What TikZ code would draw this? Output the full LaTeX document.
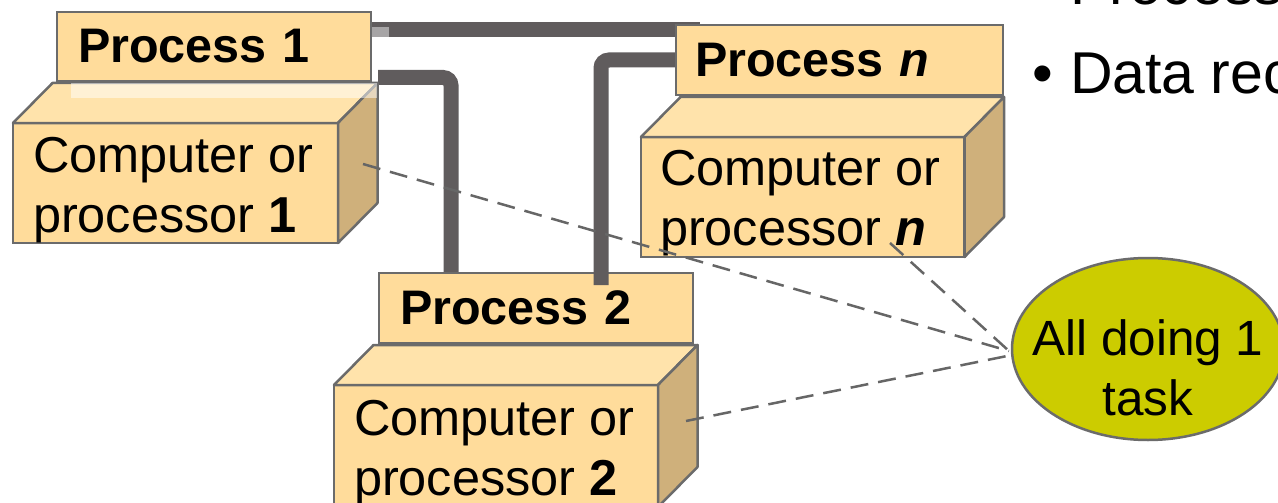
\documentclass[tikz,border=0pt]{standalone}
\usepackage{fontspec}
\setmainfont{Liberation Sans}
\usetikzlibrary{calc,shapes.geometric}

\definecolor{boxfront}{HTML}{FFDC9B}
\definecolor{boxtop}{HTML}{FFE3AB}
\definecolor{boxside}{HTML}{CFB07B}
\definecolor{boxline}{HTML}{6B6B6B}
\definecolor{busline}{HTML}{605C5D}
\definecolor{taskfill}{HTML}{CCCC00}
\definecolor{dashline}{HTML}{666666}

% top and right faces of a box whose front face is node #1
\newcommand{\cubefaces}[1]{%
  \filldraw[face, fill=boxtop] (#1.north west) -- ++(39.5,-40)
    -- ($(#1.north east)+(39.5,-40)$) -- (#1.north east) -- cycle;
  \filldraw[face, fill=boxside] (#1.north east) -- ++(39.5,-40)
    -- ($(#1.south east)+(39.5,-40)$) -- (#1.south east) -- cycle;
}

\begin{document}
\begin{tikzpicture}[x=1pt,y=-1pt,
  every node/.style={inner sep=0pt, outer sep=0pt},
  face/.style={draw=boxline, line width=2.5pt, line join=round},
  front/.style={rectangle, draw=boxline, line width=2.5pt, fill=boxfront, anchor=north west},
  procbox/.style={front, align=left, font=\fontsize{48.5}{60}\selectfont\bfseries},
  boxtext/.style={anchor=north west, align=left, font=\fontsize{50.5}{60}\selectfont},
  bus/.style={draw=busline, line width=15pt, rounded corners=8pt},
  link/.style={draw=dashline, line width=2.5pt, dash pattern=on 18pt off 10pt},
  bigtext/.style={font=\fontsize{59}{70}\selectfont}
]
\useasboundingbox (0,0) rectangle (1278,503);
\clip (0,0) rectangle (1278,503);

% front faces and process labels (placed first so the buses can refer to them)
\node[front, minimum width=325pt, minimum height=120pt] (cf1) at (13,123) {};
\node[procbox, text width=272pt, inner xsep=21pt, minimum height=69pt] (p1) at (57,12) {Process 1};
\node[front, minimum width=324pt, minimum height=122pt] (cf2) at (334,385) {};
\node[procbox, text width=272pt, inner xsep=21pt, minimum height=70pt] (p2) at (379,273) {Process 2};
\node[front, minimum width=323.5pt, minimum height=120pt] (cfn) at (641,137) {};
\node[procbox, text width=289pt, inner xsep=19pt, minimum height=70pt] (pn) at (676,25) {Process \textit{n}};

% buses running behind the boxes
\path[bus] ($(p1.north east)+(0,18)$) -- ($(pn.north west)+(24,5)$);
\path[bus] ($(cf1.north east)+(40,-45.5)$) -| ($(p2.north west)+(72,0)$);

% computer 1 with process 1
\node[front, minimum width=325pt, minimum height=120pt] at (cf1.north west) {};
\cubefaces{cf1}
\node[procbox, text width=272pt, inner xsep=21pt, minimum height=69pt] at (p1.north west) {Process 1};
\fill[white, opacity=0.5] (71,83) rectangle (377,98);
\fill[white, opacity=0.45] (372,27) rectangle (389,37);

% computer 2 with process 2
\node[front, minimum width=324pt, minimum height=122pt] at (cf2.north west) {};
\cubefaces{cf2}
\node[procbox, text width=272pt, inner xsep=21pt, minimum height=70pt] at (p2.north west) {Process 2};

% bus from process n down onto process 2
\path[bus] ($(pn.north west)+(0,35)$) -| ($(p2.north west)+(222,12)$);

% computer n with process n
\node[front, minimum width=323.5pt, minimum height=120pt] at (cfn.north west) {};
\cubefaces{cfn}
\node[procbox, text width=289pt, inner xsep=19pt, minimum height=70pt] at (pn.north west) {Process \textit{n}};

% computer labels
\node[boxtext] (t1) at (33,132) {\rule{0pt}{40pt}Computer or\\processor \textbf{1}};
\node[boxtext] (t2) at (354,395) {\rule{0pt}{40pt}Computer or\\processor \textbf{2}};
\node[boxtext] (tn) at (660,145) {\rule{0pt}{40pt}Computer or\\processor \textbf{\textit{n}}};

% shared task
\node[ellipse, draw=boxline, line width=2.5pt, fill=taskfill,
      minimum width=272pt, minimum height=182pt] (task) at (1148,349) {};
\node[anchor=north, align=center, font=\fontsize{49.5}{60}\selectfont] (tasktxt)
      at (1148,315) {\rule{0pt}{40pt}All doing 1\\task};

% dashed links to the task
\coordinate (s1) at (363,164);
\coordinate (sn) at (890,243);
\coordinate (s2) at (686,421);
\draw[link] (s1) -- ($(task.west)+(-3,2)$);
\draw[link] (sn) -- ($(task.west)+(-3,2)$);
\draw[link] (s2) -- ($(task.west)+(0,6)$);

% bullet text at the right
\node[anchor=base west, bigtext] (toptext) at (1070,5) {Processes};
\node[anchor=base, bigtext] (bullet) at (1043,93) {•};
\node[anchor=base west, bigtext] (datatext) at (1070,93) {Data rec};
\end{tikzpicture}
\end{document}
